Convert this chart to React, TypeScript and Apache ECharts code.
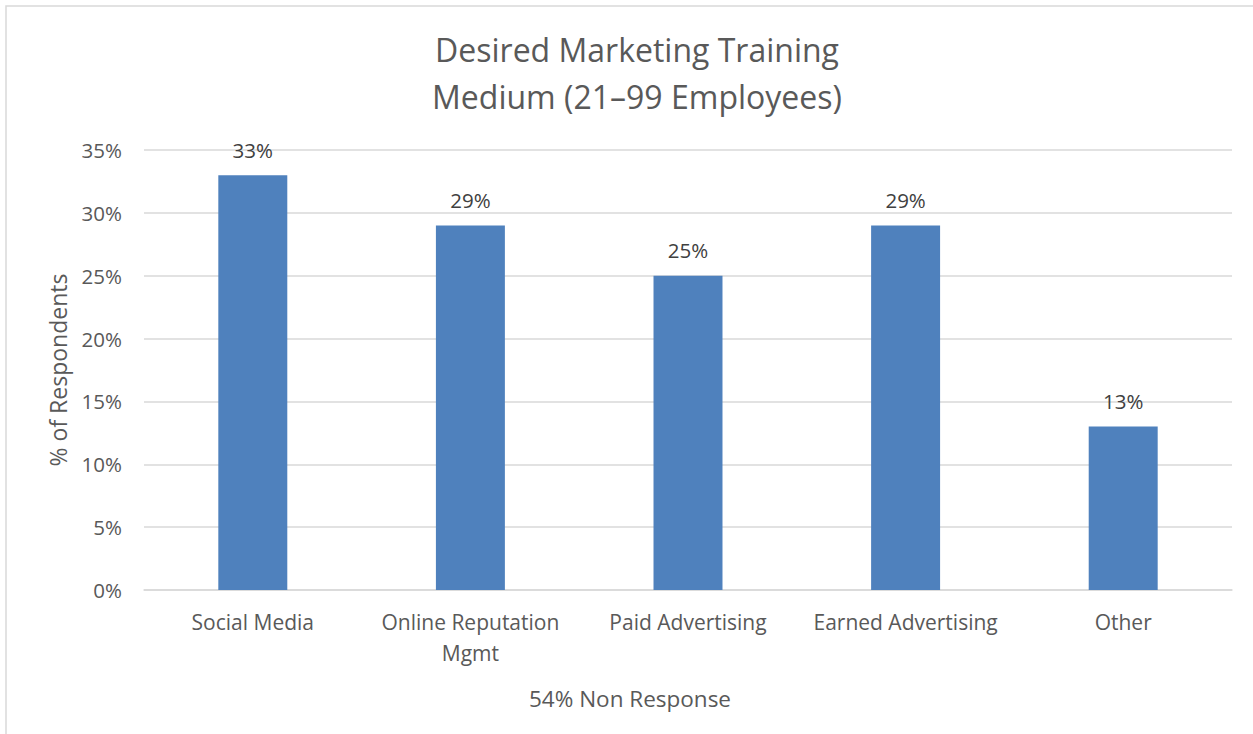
import React, { useEffect, useRef } from "react";
import * as echarts from "echarts";

const categories = ["Social Media", "Online Reputation\nMgmt", "Paid Advertising", "Earned Advertising", "Other"];
const values = [33, 29, 25, 29, 13];
const titleLines = ["Desired Marketing Training", "Medium (21–99 Employees)"];
const yAxisName = "% of Respondents";
const xAxisName = "54% Non Response";

const FONT = "Open Sans";
const TXT = "#595959";

export default function App() {
  const ref = useRef<HTMLDivElement>(null);
  useEffect(() => {
    const chart = echarts.init(ref.current!, null, { renderer: "svg" });
    chart.setOption({
      animation: false,
      backgroundColor: "#ffffff",
      textStyle: { fontFamily: FONT },
      title: {
        text: titleLines.join("\n"),
        left: 632,
        top: 21,
        textAlign: "center",
        textStyle: { fontFamily: FONT, fontSize: 32, fontWeight: "normal", color: TXT, lineHeight: 47 },
      },
      graphic: [
        {
          type: "rect",
          shape: { x: 6, y: 6, width: 1270, height: 760 },
          style: { fill: "none", stroke: "#d9d9d9", lineWidth: 1.5 },
          silent: true,
        },
        {
          type: "text",
          x: 630,
          y: 698,
          style: {
            text: xAxisName,
            fontFamily: FONT,
            fontSize: 22.5,
            fill: TXT,
            align: "center",
            verticalAlign: "middle",
          },
        },
      ],
      grid: { left: 144, right: 21, top: 150, bottom: 144, containLabel: false },
      xAxis: {
        type: "category",
        data: categories,
        axisLine: { show: true, lineStyle: { color: "#d9d9d9", width: 1.5 } },
        axisTick: { show: false },
        axisLabel: { color: TXT, fontSize: 21, fontFamily: FONT, margin: 16, lineHeight: 31, interval: 0 },
      },
      yAxis: {
        type: "value",
        min: 0,
        max: 35,
        interval: 5,
        name: yAxisName,
        nameLocation: "middle",
        nameGap: 75,
        nameRotate: 90,
        nameTextStyle: { color: TXT, fontSize: 23, fontFamily: FONT },
        axisLine: { show: false },
        axisTick: { show: false },
        axisLabel: { color: TXT, fontSize: 20.5, fontFamily: FONT, margin: 22, formatter: "{value}%" },
        splitLine: { lineStyle: { color: "#d9d9d9", width: 1.5 } },
      },
      series: [
        {
          type: "bar",
          data: values,
          barWidth: "31.7%",
          itemStyle: { color: "#4f81bd" },
          label: {
            show: true,
            position: "top",
            distance: 15,
            formatter: "{c}%",
            color: "#404040",
            fontSize: 20.5,
            fontFamily: FONT,
          },
        },
      ],
    });
    return () => chart.dispose();
  }, []);
  return <div ref={ref} style={{ position: "fixed", left: 0, top: 0, width: 1253, height: 734 }} />;
}
